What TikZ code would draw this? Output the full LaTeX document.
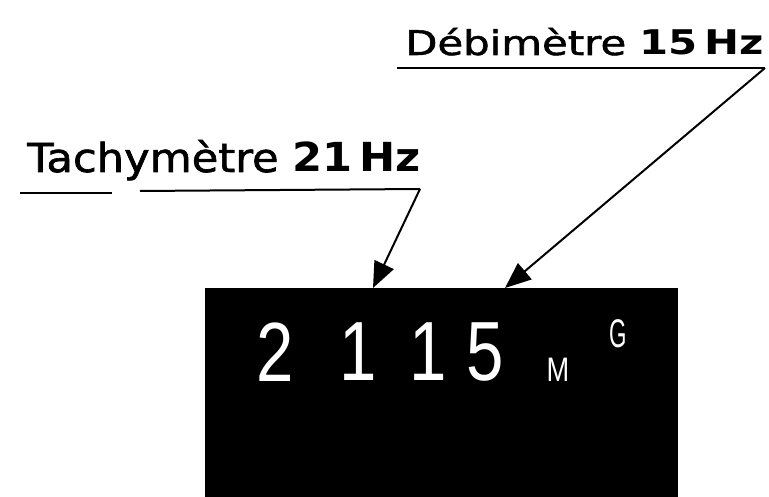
\documentclass[tikz,border=0pt]{standalone}
\usepackage{fontspec}
\setmainfont{DejaVu Sans}
\newfontfamily\wordfont[FakeBold=1.5]{DejaVu Sans}
\newfontfamily\lcdfont{Liberation Sans}
\usetikzlibrary{arrows.meta}
\begin{document}
\begin{tikzpicture}[x=1pt,y=-1pt,
    lbl/.style={anchor=base west,inner sep=0pt},
    ptr/.style={line width=2pt,-{Triangle[length=26pt,width=21pt]}},
    lcd/.style={text=white,inner sep=0pt,font=\lcdfont\fontsize{84}{84}\selectfont,xscale=0.8}]
  \useasboundingbox[fill=white] (0,0) rectangle (769,497);
  % display
  \node[fill=black,inner sep=0pt,minimum width=473pt,minimum height=209pt,
    anchor=north west] (display) at (205,288) {};
  \node[lcd] (d2) at (275,352) {2};
  \node[lcd] (d1a) at (358,352) {1};
  \node[lcd] (d1b) at (428,352) {1};
  \node[lcd] (d5) at (485,352) {5};
  \node[lcd,font=\lcdfont\fontsize{34}{34}\selectfont] (m) at (558,370) {M};
  \node[lcd,font=\lcdfont\fontsize{40}{40}\selectfont,xscale=0.7] (g) at (618,334) {G};
  % labels
  \node[lbl,font=\fontsize{40}{40}\selectfont,xscale=1.08] (tachy) at (27,172)
    {{\wordfont Tachymètre} \textbf{21}\,\textbf{Hz}};
  \node[lbl,font=\fontsize{34}{34}\selectfont,xscale=1.23] (debit) at (405,55)
    {{\wordfont Débimètre} \textbf{15}\,\textbf{Hz}};
  \coordinate (tachy start) at (20,193);
  \coordinate (tachy gap a) at (112,193);
  \coordinate (tachy gap b) at (140,191);
  \coordinate (tachy end) at (420,189);
  \coordinate (tachy tip) at (373,288);
  \coordinate (debit start) at (397,68);
  \coordinate (debit end) at (765,68);
  \coordinate (debit tip) at (505,288);
  \draw[line width=2pt] (tachy start) -- (tachy gap a);
  \draw[line width=2pt] (tachy gap b) -- (tachy end);
  \draw[line width=2pt] (debit start) -- (debit end);
  \draw[ptr] (tachy end) -- (tachy tip);
  \draw[ptr] (debit end) -- (debit tip);
\end{tikzpicture}
\end{document}
